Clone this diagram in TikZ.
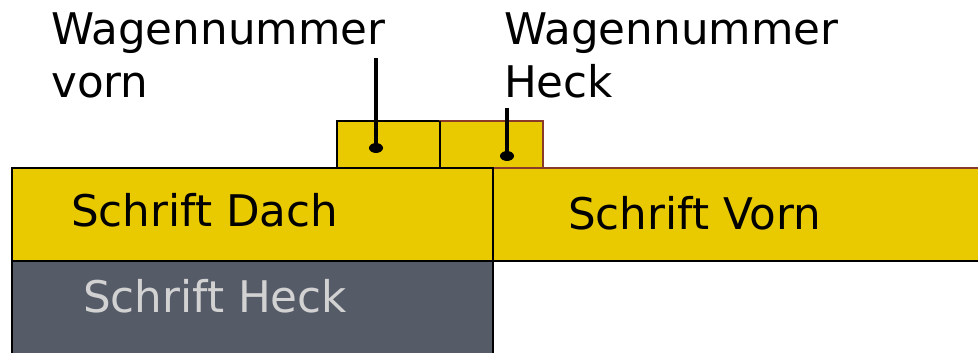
\documentclass[tikz,border=0pt]{standalone}
\usepackage{fontspec}
\setmainfont{DejaVu Sans}
\definecolor{wyellow}{HTML}{E9C900}
\definecolor{wgray}{HTML}{565B68}
\definecolor{wtext}{HTML}{D2D2D2}
\definecolor{wred}{HTML}{8A3A2A}
\tikzset{
  box/.style={draw=black, line width=1.5pt, fill=wyellow},
  lbl/.style={anchor=base west, inner sep=0pt, font=\fontsize{43.6}{52}\selectfont},
  pointer/.style={line width=4pt},
  dotmark/.style={fill=black, ellipse, minimum width=14pt, minimum height=10pt, inner sep=0pt}
}
\usetikzlibrary{shapes.geometric}
\begin{document}
\begin{tikzpicture}[x=1pt,y=-1pt]
\useasboundingbox (0,0) rectangle (978,353);
% top small boxes
\draw[box] (337,121) rectangle (440,168);
\draw[box, draw=wred] (440,121) rectangle (543,168);
\draw[line width=1.5pt] (440,121) -- (440,168);
% main row
\draw[box, draw=wred] (493,168) rectangle (990,261);
\draw[line width=1.5pt] (493,168) -- (493,261) -- (990,261);
\draw[box] (12,168) rectangle (493,261);
\draw[box, fill=wgray] (12,261) rectangle (493,360);
% labels
\node[lbl] (wv1) at (51,45) {Wagennummer};
\node[lbl] (wv2) at (51,98) {vorn};
\node[lbl] (wh1) at (504,45) {Wagennummer};
\node[lbl] (wh2) at (504,97) {Heck};
\node[lbl] (sd) at (71,226) {Schrift Dach};
\node[lbl] (sv) at (568,229) {Schrift Vorn};
\node[lbl, text=wtext] (sh) at (83,312) {Schrift Heck};
% pointers
\coordinate (p1top) at (376,58);
\node[dotmark] (d1) at (376,148) {};
\coordinate (p2top) at (507,108);
\node[dotmark] (d2) at (507,156) {};
\draw[pointer] (p1top) -- (d1.center);
\draw[pointer] (p2top) -- (d2.center);
\end{tikzpicture}
\end{document}
